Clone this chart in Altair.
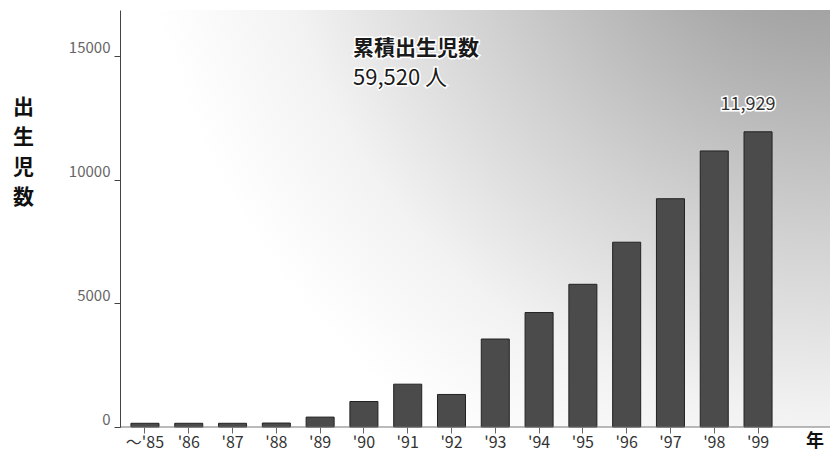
import altair as alt
import pandas as pd

years = ["〜'85", "'86", "'87", "'88", "'89", "'90", "'91", "'92", "'93", "'94",
         "'95", "'96", "'97", "'98", "'99"]
births = [150, 150, 150, 160, 400, 1030, 1730, 1315, 3555, 4625, 5766, 7467, 9224, 11154, 11929]
y_ticks = [0, 5000, 10000, 15000]
y_title = ["出", "生", "児", "数"]
note_lines = ["累積出生児数", "59,520 人"]
x_unit = "年"

FONT = "Noto Sans CJK JP"
W, H = 710, 417

df = pd.DataFrame({"year": years, "births": births})

xscale = alt.Scale(domain=years, range=[0, 663], paddingInner=0.36, paddingOuter=0.25)
yscale = alt.Scale(domain=[0, 16850], nice=False)

bg = alt.Chart(alt.Data(values=[{}])).mark_rect(
    fill=alt.Gradient(
        gradient="radial",
        stops=[
            alt.GradientStop(color="#8c8c8c", offset=0),
            alt.GradientStop(color="#a8a8a8", offset=0.25),
            alt.GradientStop(color="#d2d2d2", offset=0.55),
            alt.GradientStop(color="#f2f2f2", offset=0.8),
            alt.GradientStop(color="#ffffff", offset=1),
        ],
        x1=1, y1=0, r1=0, x2=1, y2=0, r2=0.97,
    )
).encode(x=alt.value(0), x2=alt.value(W), y=alt.value(0), y2=alt.value(H))

bars = alt.Chart(df).mark_bar(fill="#4b4b4b", stroke="#222222", strokeWidth=1).encode(
    x=alt.X("year:N", scale=xscale, sort=years,
            axis=alt.Axis(title=None, domain=False, labelAngle=0, labelFont=FONT,
                          labelFontSize=16, labelColor="#333", tickColor="#666",
                          tickSize=6, labelPadding=1, zindex=1)),
    y=alt.Y("births:Q", scale=yscale,
            axis=alt.Axis(values=y_ticks, format="d", grid=False, domainColor="#444",
                          tickColor="#444", zindex=1,
                          tickSize=6, labelFont=FONT, labelFontSize=15, labelColor="#666",
                          labelPadding=4, labelOffset=-8, labelBaseline="middle",
                          title=y_title, titleAngle=0, titleX=-97, titleY=86,
                          titleAlign="center", titleBaseline="top", titleFont=FONT,
                          titleFontSize=21, titleFontWeight="bold", titleLineHeight=30,
                          titleColor="#111")),
)

baseline = alt.Chart(alt.Data(values=[{}])).mark_rule(color="#777", strokeWidth=1).encode(
    x=alt.value(0), x2=alt.value(W), y=alt.value(H)
)

last = df[df["year"] == "'99"]
lab_base = alt.Chart(last).encode(
    x=alt.X("year:N", scale=xscale, sort=years),
    y=alt.Y("births:Q", scale=yscale),
    text=alt.Text("births:Q", format=","),
)
lab_halo = lab_base.mark_text(font=FONT, fontSize=18, baseline="bottom", dy=-18, dx=-10,
                              stroke="white", strokeWidth=3, fill="white")
lab = lab_base.mark_text(font=FONT, fontSize=18, baseline="bottom", dy=-18, dx=-10, fill="#333")

def txt(s, x, y, size, weight, color="#1a1a1a", halo=False):
    kw = dict(font=FONT, fontSize=size, fontWeight=weight, align="left", baseline="top", text=s)
    if halo:
        m = alt.Chart(alt.Data(values=[{}])).mark_text(stroke="white", strokeWidth=3,
                                                          fill="white", **kw)
    else:
        m = alt.Chart(alt.Data(values=[{}])).mark_text(fill=color, **kw)
    return m.encode(x=alt.value(x), y=alt.value(y))

note = [
    txt(note_lines[0], 233, 28, 21, "bold", halo=True),
    txt(note_lines[0], 233, 28, 21, "bold"),
    txt(note_lines[1], 233, 58, 22, "normal", halo=True),
    txt(note_lines[1], 233, 58, 22, "normal"),
]

unit = alt.Chart(alt.Data(values=[{}])).mark_text(
    font=FONT, fontSize=18, fontWeight="bold", align="center", baseline="middle",
    text=x_unit, fill="#111"
).encode(x=alt.value(695), y=alt.value(432))

chart = alt.layer(bg, bars, baseline, lab_halo, lab, *note, unit).properties(
    width=W, height=H,
    padding={"left": 120, "top": 10, "right": 0, "bottom": 30},
    autosize="none",
    background="white",
).configure_view(stroke=None)

chart.save("out.html", embed_options={"renderer": "svg", "actions": False})
